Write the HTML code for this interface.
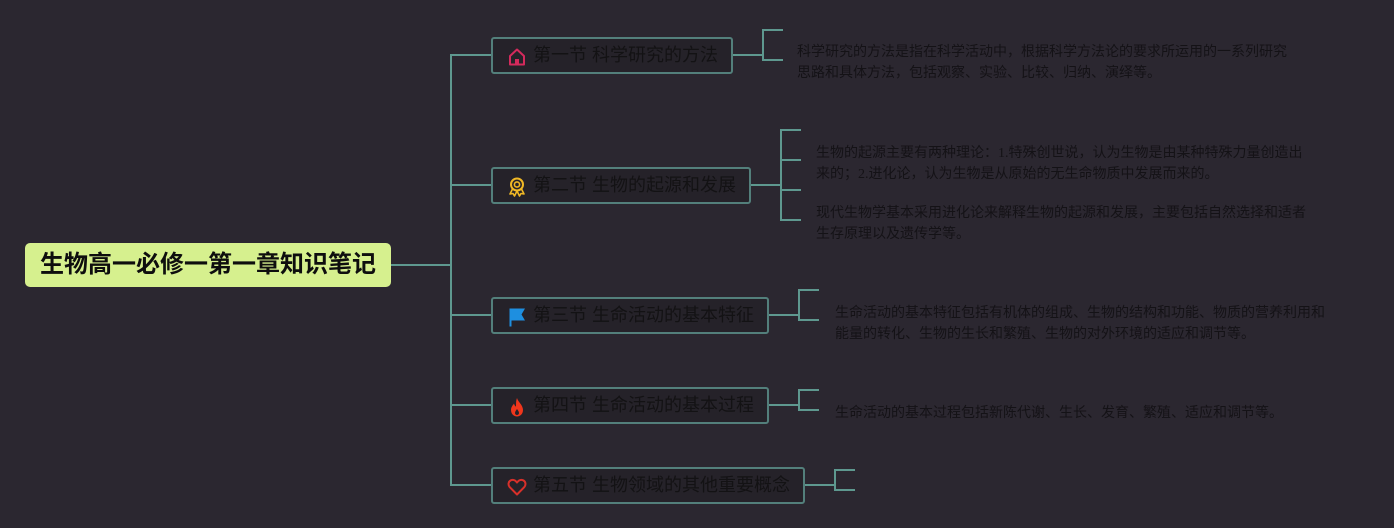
<!DOCTYPE html>
<html><head><meta charset="utf-8">
<style>
html,body{margin:0;padding:0;}
body{width:1394px;height:528px;background:#2b2730;position:relative;overflow:hidden;font-family:"Liberation Sans","Noto Sans CJK SC",sans-serif;}
svg{position:absolute;left:0;top:0;}
.root{position:absolute;left:25px;top:243px;width:366px;height:44px;background:#d6f08e;border-radius:5px;font-weight:bold;font-size:24px;line-height:44px;color:#0e0e0e;text-align:center;letter-spacing:0px;}
.node{position:absolute;box-sizing:border-box;height:37px;border:2px solid #537f7b;border-radius:3px;background:#252229;}
.node span{position:absolute;left:40px;top:0;line-height:33px;font-size:18px;color:#131214;white-space:nowrap;}
.node i{position:absolute;left:14px;top:8px;width:20px;height:20px;}
.desc{position:absolute;font-family:"Liberation Serif","Noto Sans CJK SC",sans-serif;font-size:14px;line-height:20.5px;color:#141216;white-space:nowrap;}
</style></head><body>
<svg width="1394" height="528" viewBox="0 0 1394 528">
<g stroke="#5e988f" stroke-width="2" fill="none">
<path d="M391 265 H451"/>
<path d="M451 54 V486"/>
<path d="M451 55 H491 M451 185 H491 M451 315 H491 M451 405 H491 M451 485 H491"/>
<path d="M733 55 H763 M783 30 H763 V60 H783"/>
<path d="M751 185 H781 M801 130 H781 V220 H801 M781 160 H801 M781 190 H801"/>
<path d="M769 315 H799 M819 290 H799 V320 H819"/>
<path d="M769 405 H799 M819 390 H799 V410 H819"/>
<path d="M805 485 H835 M855 470 H835 V490 H855"/>
</g>
</svg>

<div class="root">生物高一必修一第一章知识笔记</div>

<div class="node" style="left:491px;top:37px;width:242px;">
<i><svg width="20" height="20" viewBox="0 0 20 20"><path d="M3 9 L10 2.5 L17 9 V17.5 H3 Z" fill="none" stroke="#d42a5c" stroke-width="2" stroke-linejoin="round"/><rect x="8" y="12" width="4" height="5.5" fill="#d42a5c"/></svg></i>
<span>第一节 科学研究的方法</span></div>

<div class="node" style="left:491px;top:167px;width:260px;">
<i><svg width="20" height="20" viewBox="0 0 20 20"><circle cx="10" cy="7.5" r="6" fill="none" stroke="#f0b825" stroke-width="2"/><circle cx="10" cy="7.5" r="2.6" fill="none" stroke="#f0b825" stroke-width="1.6"/><path d="M5.5 12 L3 17 L6 16.5 L7.5 19 L10 14 L12.5 19 L14 16.5 L17 17 L14.5 12" fill="none" stroke="#f0b825" stroke-width="1.6" stroke-linejoin="round"/></svg></i>
<span>第二节 生物的起源和发展</span></div>

<div class="node" style="left:491px;top:297px;width:278px;">
<i><svg width="20" height="20" viewBox="0 0 20 20"><path d="M2.5 1.5 H18 L14.5 7.5 L18 13.5 H4.5 V19.5 H2.5 Z" fill="#1e8fe0"/></svg></i>
<span>第三节 生命活动的基本特征</span></div>

<div class="node" style="left:491px;top:387px;width:278px;">
<i><svg width="20" height="20" viewBox="0 0 20 20"><path d="M10 1 C11 5 16 8 16 13 C16 17 13 19.5 10 19.5 C7 19.5 4 17 4 13 C4 10 6 8 7 6.5 C7.5 8.5 8.5 9.5 9 9.5 C9 6 9 3.5 10 1 Z M10 12 C8.5 14 8 15 8 16 C8 17.3 9 18 10 18 C11 18 12 17.3 12 16 C12 15 11.5 14 10 12 Z" fill="#f0361c" fill-rule="evenodd"/></svg></i>
<span>第四节 生命活动的基本过程</span></div>

<div class="node" style="left:491px;top:467px;width:314px;">
<i><svg width="20" height="20" viewBox="0 0 20 20"><path d="M10 17.5 L2.8 10.2 C0.8 8 1.2 4.5 3.8 3.3 C6 2.3 8.3 3.2 10 5.5 C11.7 3.2 14 2.3 16.2 3.3 C18.8 4.5 19.2 8 17.2 10.2 Z" fill="none" stroke="#d8302a" stroke-width="2" stroke-linejoin="round"/></svg></i>
<span>第五节 生物领域的其他重要概念</span></div>

<div class="desc" style="left:797px;top:43px;">科学研究的方法是指在科学活动中，根据科学方法论的要求所运用的一系列研究<br>思路和具体方法，包括观察、实验、比较、归纳、演绎等。</div>

<div class="desc" style="left:816px;top:144px;">生物的起源主要有两种理论：1.特殊创世说，认为生物是由某种特殊力量创造出<br>来的；2.进化论，认为生物是从原始的无生命物质中发展而来的。</div>

<div class="desc" style="left:816px;top:204px;">现代生物学基本采用进化论来解释生物的起源和发展，主要包括自然选择和适者<br>生存原理以及遗传学等。</div>

<div class="desc" style="left:835px;top:304px;">生命活动的基本特征包括有机体的组成、生物的结构和功能、物质的营养利用和<br>能量的转化、生物的生长和繁殖、生物的对外环境的适应和调节等。</div>

<div class="desc" style="left:835px;top:404px;">生命活动的基本过程包括新陈代谢、生长、发育、繁殖、适应和调节等。</div>

</body></html>
